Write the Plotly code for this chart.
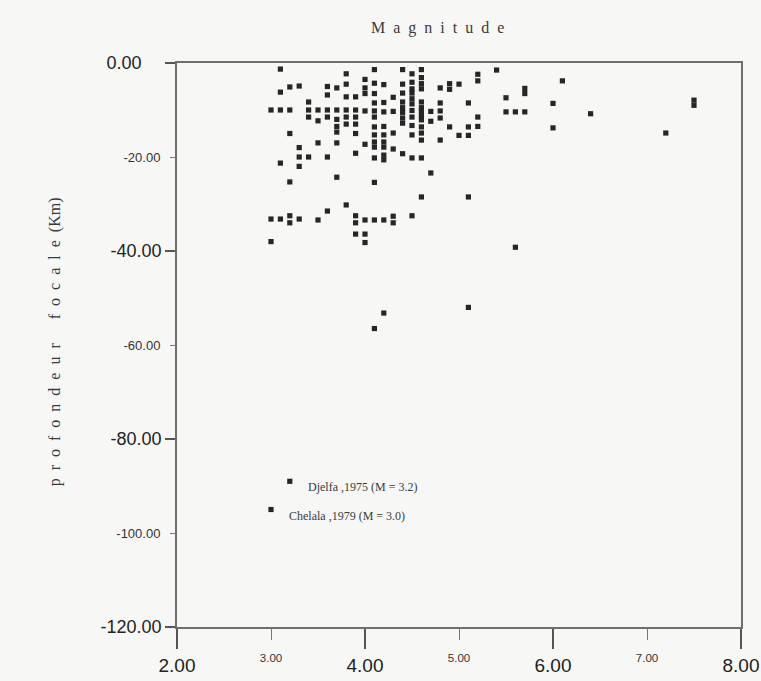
import plotly.graph_objects as go

# Magnitude columns (0.1 steps) and the focal depths (km) read for each column
mag_columns = [3.0, 3.1, 3.2, 3.3, 3.4, 3.5, 3.6, 3.7, 3.8, 3.9,
               4.0, 4.1, 4.2, 4.3, 4.4, 4.5, 4.6, 4.7, 4.8, 4.9,
               5.0, 5.1, 5.2, 5.4, 5.5, 5.6, 5.7, 6.0, 6.1, 6.4, 7.2, 7.5]
depth_columns = [
    [10, 33.2, 38],
    [1.3, 6.2, 10, 21.3, 33.2],
    [5.1, 10, 15, 25.3, 32.5, 34],
    [4.9, 18, 20, 22, 33.2],
    [8.3, 10, 11.5, 20],
    [10, 12.3, 17, 33.4],
    [5, 6.8, 10, 11.5, 20, 31.5],
    [5.3, 10, 12, 13.5, 14.7, 17, 24.3],
    [2.3, 4.5, 7.2, 10, 11.5, 13, 30.2],
    [7.2, 10, 11.5, 13, 15, 19.2, 32.5, 34, 36.4],
    [3.5, 5.3, 6.5, 10.2, 17.3, 33.4, 36.4, 38.2],
    [1.4, 4.3, 6.5, 8.5, 10.2, 11.5, 13.6, 15.3, 16.8, 17.9, 20.2, 25.4, 33.4, 56.5],
    [4.6, 8.4, 10.4, 13.5, 15.3, 16.8, 17.9, 19.6, 20.6, 33.4, 53.2],
    [7.3, 10.3, 14.9, 18.3, 32.6, 34],
    [1.4, 4.5, 6.4, 8.3, 9.5, 10.5, 11.7, 12.8, 19.3],
    [2.3, 4.1, 5.5, 6.4, 7.6, 8.7, 10.1, 11.5, 13.3, 15.3, 20.2, 32.5],
    [1.4, 3.1, 4.4, 5.5, 8.3, 9.5, 10.2, 11.2, 12.1, 13.6, 14.9, 16.4, 20.2, 28.5],
    [10.3, 12.4, 23.4],
    [5.3, 8.5, 10.2, 11.7, 16.4],
    [4.4, 5.6, 13.6],
    [4.5, 15.4],
    [8.5, 13.6, 15.4, 28.5, 52],
    [2.4, 3.8, 11.5, 13.5],
    [1.5],
    [7.4, 10.4],
    [10.4, 39.2],
    [5.4, 6.5, 10.4],
    [8.6, 13.8],
    [3.8],
    [10.8],
    [14.9],
    [7.9, 9.0],
]

# Labelled events
event_names = ["Djelfa ,1975 (M = 3.2)", "Chelala ,1979 (M = 3.0)"]
event_mag = [3.2, 3.0]
event_depth = [89.0, 95.0]

# Axis ticks
x_major = [2, 4, 6, 8]
x_minor = [3, 5, 7]
y_major = [0, -40, -80, -120]
y_minor = [-20, -60, -100]

xs, ys = [], []
for m, ds in zip(mag_columns, depth_columns):
    for d in ds:
        xs.append(m)
        ys.append(-d)

dot = dict(symbol="square", size=5.2, color="#262626")
fig = go.Figure()
fig.add_trace(go.Scatter(x=xs, y=ys, mode="markers", marker=dot,
                         hoverinfo="x+y", showlegend=False))
# the two labelled events live on the overlay axes (same ranges) so those axes render
fig.add_trace(go.Scatter(x=event_mag, y=[-d for d in event_depth], mode="markers",
                         marker=dot, xaxis="x2", yaxis="y2", showlegend=False))

serif = "Liberation Serif"
sans = "Liberation Sans"

for name, m, d in zip(event_names, event_mag, event_depth):
    fig.add_annotation(x=m, y=-d, text=name, showarrow=False, xanchor="left",
                       yanchor="middle", xshift=16, yshift=-6,
                       font=dict(family=serif, size=12, color="#3a3a3a"))

fig.add_annotation(xref="paper", yref="paper", x=0.461, y=1.062,
                   text="\u2002".join("Magnitude"), showarrow=False,
                   xanchor="center", yanchor="middle",
                   font=dict(family=serif, size=16, color="#3a3a3a"))

ylab = ("\u2002".join("profondeur") + "\u2003\u2002" + "\u2002".join("focale")
        + "\u2002(Km)")
fig.add_annotation(xref="paper", yref="paper", x=-0.216, y=0.505, text=ylab,
                   textangle=-90, showarrow=False, xanchor="center", yanchor="middle",
                   font=dict(family=serif, size=16, color="#3a3a3a"))

def fmt(v):
    return f"{v:.2f}"

y_major_text = [fmt(v) + ("\u2007\u2007" if v == 0 else "") for v in y_major]

fig.update_layout(
    width=761, height=681,
    margin=dict(l=177, r=20, t=63, b=54),
    paper_bgcolor="#f7f8f6", plot_bgcolor="#f7f8f6",
    xaxis=dict(range=[2, 8], tickmode="array", tickvals=x_major, automargin=False,
               ticktext=[fmt(v) for v in x_major], ticks="outside", ticklen=20,
               tickwidth=1.5, tickcolor="#555", showgrid=False, zeroline=False,
               showline=True, linecolor="#6e6e6e", linewidth=1.5, mirror=True,
               tickfont=dict(family=sans, size=19, color="#222")),
    xaxis2=dict(range=[2, 8], overlaying="x", anchor="y", side="bottom", automargin=False,
                tickmode="array", tickvals=x_minor, ticktext=[fmt(v) for v in x_minor],
                ticks="outside", ticklen=12, tickwidth=1.2, tickcolor="#777",
                ticklabelstandoff=8, showgrid=False, zeroline=False, showline=False,
                tickfont=dict(family=sans, size=11.5, color="#333")),
    yaxis=dict(range=[-120, 0], tickmode="array", tickvals=y_major, automargin=False,
               ticktext=y_major_text, ticks="outside", ticklen=10, tickwidth=1.5,
               tickcolor="#555", showgrid=False, zeroline=False, showline=True,
               linecolor="#6e6e6e", linewidth=1.5, mirror=True,
               tickfont=dict(family=sans, size=18, color="#222")),
    yaxis2=dict(range=[-120, 0], overlaying="y", anchor="x", side="left", automargin=False,
                tickmode="array", tickvals=y_minor, ticktext=[fmt(v) for v in y_minor],
                ticks="outside", ticklen=6, tickwidth=1.2, tickcolor="#777",
                ticklabelstandoff=7, showgrid=False, zeroline=False, showline=False,
                tickfont=dict(family=sans, size=13, color="#333")),
)

fig.write_html("out.html")
